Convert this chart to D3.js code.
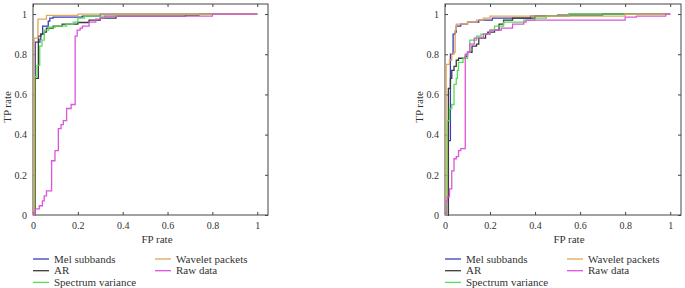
<!DOCTYPE html>
<html lang="en">
<head>
<meta charset="UTF-8">
<title>ROC curves</title>
<style>
  body { margin: 0; background: #fff; overflow: hidden; }
  svg text { font-family: "Liberation Serif", "DejaVu Serif", serif !important; }
  .tick text { fill: #333; font-size: 10px; }
  .lbl { fill: #333; font-size: 11px; }
</style>
</head>
<body>
<svg id="chart" width="685" height="288"></svg>
<script src="https://d3js.org/d3.v7.min.js"></script>
<script>
// series names and colours (legend order)
const seriesNames = ["Mel subbands", "AR", "Spectrum variance", "Wavelet packets", "Raw data"];
const seriesColors = ["#3c3cb4", "#3a3a3a", "#55dd55", "#e2a65c", "#dc55dc"];
const tickValues = [0, 0.2, 0.4, 0.6, 0.8, 1];
const tickLabels = ["0", "0.2", "0.4", "0.6", "0.8", "1"];

// left panel: [FP rate, TP rate] where TP jumps at that FP
const leftMel = [[0,0],[0.01,0.86],[0.031,0.875],[0.035,0.9],[0.043,0.94],[0.068,0.965],[0.075,0.98],[0.09,0.985],[0.22,0.99],[0.3,1],[1,1]];
const leftAR = [[0,0],[0.01,0.68],[0.024,0.89],[0.035,0.9],[0.05,0.91],[0.06,0.93],[0.09,0.94],[0.13,0.95],[0.2,0.958],[0.25,0.97],[0.3,0.98],[0.37,0.99],[0.68,0.995],[0.74,1],[1,1]];
const leftSpec = [[0,0],[0.008,0.69],[0.018,0.745],[0.03,0.84],[0.04,0.87],[0.05,0.92],[0.07,0.935],[0.1,0.94],[0.15,0.95],[0.18,0.96],[0.2,0.98],[0.23,0.99],[0.37,1],[1,1]];
const leftWav = [[0,0],[0.005,0.88],[0.022,0.975],[0.06,0.993],[0.2,1],[1,1]];
const leftRaw = [[0,0],[0.009,0.03],[0.028,0.046],[0.042,0.07],[0.05,0.095],[0.06,0.12],[0.083,0.27],[0.098,0.32],[0.113,0.43],[0.125,0.45],[0.135,0.47],[0.15,0.53],[0.17,0.55],[0.188,0.89],[0.197,0.92],[0.21,0.93],[0.22,0.94],[0.25,0.96],[0.28,0.975],[0.3,0.98],[0.32,0.99],[0.8,1],[1,1]];

// right panel
const rightMel = [[0,0],[0.015,0.37],[0.024,0.8],[0.036,0.9],[0.045,0.91],[0.05,0.94],[0.07,0.95],[0.1,0.96],[0.15,0.97],[0.21,0.98],[0.38,0.99],[0.55,1],[1,1]];
const rightAR = [[0,0],[0.015,0.63],[0.024,0.68],[0.03,0.72],[0.04,0.74],[0.05,0.77],[0.06,0.78],[0.09,0.79],[0.1,0.81],[0.12,0.84],[0.14,0.85],[0.15,0.88],[0.18,0.9],[0.19,0.91],[0.22,0.92],[0.24,0.95],[0.26,0.97],[0.3,0.98],[0.4,0.99],[0.5,0.995],[0.7,1],[1,1]];
const rightSpec = [[0,0],[0.01,0.47],[0.02,0.53],[0.03,0.55],[0.04,0.65],[0.05,0.68],[0.055,0.72],[0.06,0.76],[0.08,0.78],[0.1,0.81],[0.11,0.87],[0.14,0.89],[0.16,0.9],[0.2,0.92],[0.22,0.94],[0.26,0.96],[0.35,0.97],[0.4,0.98],[0.45,0.99],[0.55,1],[1,1]];
const rightWav = [[0,0],[0.005,0.75],[0.02,0.77],[0.03,0.8],[0.04,0.81],[0.045,0.92],[0.05,0.95],[0.1,0.96],[0.14,0.97],[0.17,0.98],[0.2,0.99],[0.8,1],[1,1]];
const rightRaw = [[0,0],[0.005,0.07],[0.01,0.09],[0.02,0.13],[0.03,0.22],[0.04,0.28],[0.05,0.29],[0.06,0.32],[0.07,0.33],[0.09,0.8],[0.1,0.81],[0.11,0.85],[0.13,0.88],[0.17,0.9],[0.2,0.92],[0.25,0.93],[0.3,0.95],[0.35,0.96],[0.36,0.97],[0.8,0.985],[0.85,0.99],[0.98,1],[1,1]];

const svg = d3.select("#chart");

function drawPanel(left, right, curves, legendCols) {
    const top = 4, bottom = 215;
    const x = d3.scaleLinear().domain([0, 1.048]).range([left, right]);
    const y = d3.scaleLinear().domain([0, 1.05]).range([bottom, top]);
    const g = svg.append("g");

    // inward ticks on all four sides, matlab style
    const fmt = (d, i) => tickLabels[i];
    g.append("g").attr("transform", `translate(0,${bottom})`)
        .call(d3.axisBottom(x).tickValues(tickValues).tickFormat(fmt).tickSizeInner(-3).tickSizeOuter(0).tickPadding(7));
    g.append("g").attr("transform", `translate(0,${top})`)
        .call(d3.axisTop(x).tickValues(tickValues).tickFormat("").tickSizeInner(-3).tickSizeOuter(0));
    g.append("g").attr("transform", `translate(${left},0)`)
        .call(d3.axisLeft(y).tickValues(tickValues).tickFormat(fmt).tickSizeInner(-3).tickSizeOuter(0).tickPadding(6));
    g.append("g").attr("transform", `translate(${right},0)`)
        .call(d3.axisRight(y).tickValues(tickValues).tickFormat("").tickSizeInner(-3).tickSizeOuter(0));
    g.selectAll(".domain").remove();
    g.selectAll(".tick line").attr("stroke", "#444");

    g.append("rect")
        .attr("x", left).attr("y", top)
        .attr("width", right - left).attr("height", bottom - top)
        .attr("fill", "none").attr("stroke", "#444").attr("stroke-width", 1);

    const line = d3.line()
        .x(d => x(d[0])).y(d => y(d[1]))
        .curve(d3.curveStepAfter);

    curves.forEach((c, i) => {
        g.append("path")
            .datum(c)
            .attr("d", line)
            .attr("fill", "none")
            .attr("stroke", seriesColors[i])
            .attr("stroke-width", 1.3);
    });

    g.append("text").attr("class", "lbl")
        .attr("x", left + 124).attr("y", 243)
        .attr("text-anchor", "middle").text("FP rate");
    g.append("text").attr("class", "lbl")
        .attr("transform", `translate(${left - 22},107) rotate(-90)`)
        .attr("text-anchor", "middle").text("TP rate");

    // legend: 3 rows in col 1, 2 rows in col 2
    seriesNames.forEach((name, i) => {
        const col = i < 3 ? 0 : 1;
        const row = i < 3 ? i : i - 3;
        const lx = legendCols[col];
        const ly = 259 + row * 11.7;
        g.append("line")
            .attr("x1", lx).attr("x2", lx + 16)
            .attr("y1", ly).attr("y2", ly)
            .attr("stroke", seriesColors[i]).attr("stroke-width", 1.3);
        g.append("text").attr("class", "lbl")
            .attr("x", lx + 21).attr("y", ly + 3.5)
            .text(name);
    });
}

drawPanel(33, 268, [leftMel, leftAR, leftSpec, leftWav, leftRaw], [33, 155]);
drawPanel(445, 681, [rightMel, rightAR, rightSpec, rightWav, rightRaw], [445, 567]);
</script>
</body>
</html>
